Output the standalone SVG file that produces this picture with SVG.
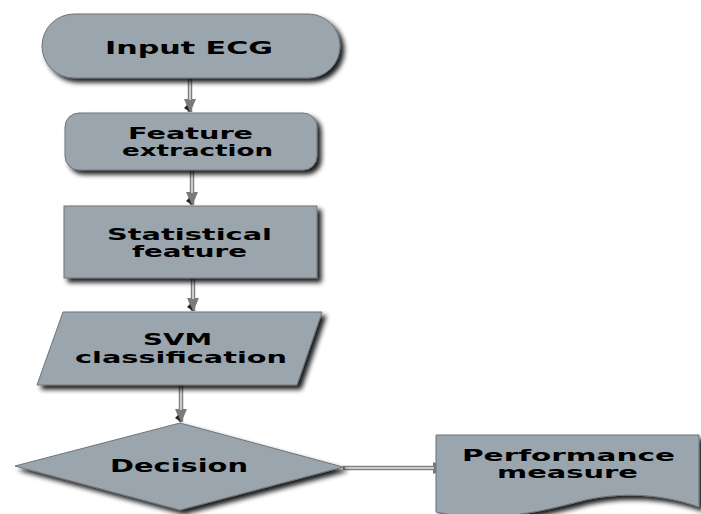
<svg xmlns="http://www.w3.org/2000/svg" width="701" height="514" viewBox="0 0 701 514">
<defs>
<filter id="sh" x="-10%" y="-10%" width="130%" height="140%">
<feGaussianBlur in="SourceAlpha" stdDeviation="2.5"/>
<feOffset dx="4" dy="4" result="b"/>
<feComponentTransfer><feFuncA type="linear" slope="0.9"/></feComponentTransfer>
<feMerge><feMergeNode/><feMergeNode in="SourceGraphic"/></feMerge>
</filter>
<marker id="ah" viewBox="0 0 14 12" markerWidth="14" markerHeight="12" refX="13" refY="6" orient="auto" markerUnits="userSpaceOnUse">
<path d="M0,0 L14,6 L0,12 Z" fill="#7a7a7a"/>
<path d="M6,9 L13,6 L9,12 Z" fill="#222"/>
</marker>
</defs>
<style>
.n{fill:#9aa5ae;stroke:#6e747a;stroke-width:1}
.t{font-family:"DejaVu Sans",Verdana,sans-serif;font-weight:bold;font-size:15px;fill:#000;text-anchor:middle}
.c{fill:none;stroke:#808080;stroke-width:4.5}
.ci{fill:none;stroke:#e4e4e4;stroke-width:1.5}
</style>
<rect width="701" height="514" fill="#fff"/>
<g id="connectors">
<path class="c" d="M190,78 V112" marker-end="url(#ah)"/>
<path class="ci" d="M190,79 V100"/>
<path class="c" d="M192,170 V205" marker-end="url(#ah)"/>
<path class="ci" d="M192,171 V193"/>
<path class="c" d="M193,278 V311" marker-end="url(#ah)"/>
<path class="ci" d="M193,279 V299"/>
<path class="c" d="M181,385 V422" marker-end="url(#ah)"/>
<path class="ci" d="M181,386 V410"/>
<path class="c" d="M343,468 H446" marker-end="url(#ah)"/>
<path class="ci" d="M345,468 H434"/>
</g>
<g id="input-ecg">
<rect class="n" x="42" y="14" width="298" height="64" rx="32" filter="url(#sh)"/>
<text class="t" x="189" y="54" textLength="168" lengthAdjust="spacingAndGlyphs" style="font-size:17px">Input ECG</text>
</g>
<g id="feature-extraction">
<rect class="n" x="65" y="113" width="252" height="57" rx="14" filter="url(#sh)"/>
<text class="t" x="190.5" y="139" textLength="125" lengthAdjust="spacingAndGlyphs">Feature</text>
<text class="t" x="197.5" y="156" textLength="151" lengthAdjust="spacingAndGlyphs">extraction</text>
</g>
<g id="statistical-feature">
<rect class="n" x="64" y="206" width="253" height="72" filter="url(#sh)"/>
<text class="t" x="189.5" y="240" textLength="165" lengthAdjust="spacingAndGlyphs">Statistical</text>
<text class="t" x="189.5" y="257" textLength="115" lengthAdjust="spacingAndGlyphs">feature</text>
</g>
<g id="svm-classification">
<polygon class="n" points="63,312 322,312 297,385 37,385" filter="url(#sh)"/>
<text class="t" x="177.5" y="345" textLength="69" lengthAdjust="spacingAndGlyphs">SVM</text>
<text class="t" x="181" y="363" textLength="212" lengthAdjust="spacingAndGlyphs">classification</text>
</g>
<g id="decision">
<polygon class="n" points="180,423 343,467 180,510 15,466" filter="url(#sh)"/>
<text class="t" x="179" y="472" textLength="138" lengthAdjust="spacingAndGlyphs" style="font-size:17px">Decision</text>
</g>
<g id="performance-measure">
<path class="n" d="M436,435 H699 V507 C672,497 630,490 585,500 C540,512 490,524 436,512 Z" filter="url(#sh)"/>
<text class="t" x="568.5" y="461" textLength="213" lengthAdjust="spacingAndGlyphs">Performance</text>
<text class="t" x="567.5" y="478" textLength="141" lengthAdjust="spacingAndGlyphs">measure</text>
</g>
</svg>
